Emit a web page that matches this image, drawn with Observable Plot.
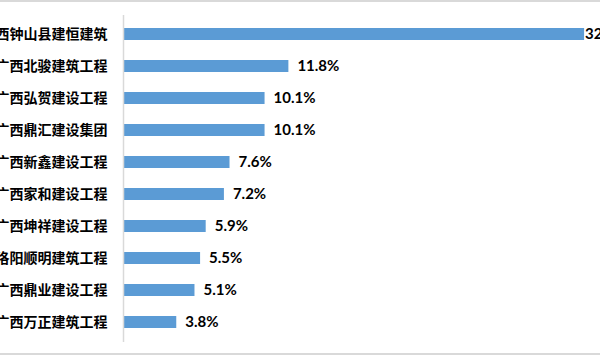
<!DOCTYPE html>
<html><head><meta charset="utf-8">
<script src="https://cdn.jsdelivr.net/npm/d3@7"></script>
<script src="https://cdn.jsdelivr.net/npm/@observablehq/plot@0.6"></script>
<style>
body{margin:0;background:#fff;}
#wrap{position:relative;width:600px;height:356px;overflow:hidden;}
#wrap .bt{position:absolute;left:0;top:0;width:600px;height:2px;background:#d9d9d9;}
#wrap .bb{position:absolute;left:0;top:353px;width:600px;height:2px;background:#d9d9d9;}
#wrap svg{position:absolute;left:0;top:0;overflow:hidden;}
</style>
</head><body>
<div id="wrap"><div class="bt"></div><div class="bb"></div></div>
<script>
const companies = ["广西钟山县建恒建筑","广西北骏建筑工程","广西弘贺建设工程","广西鼎汇建设集团","广西新鑫建设工程","广西家和建设工程","广西坤祥建设工程","洛阳顺明建筑工程","广西鼎业建设工程","广西万正建筑工程"];
const shares = [32.9, 11.8, 10.1, 10.1, 7.6, 7.2, 5.9, 5.5, 5.1, 3.8];
const data = companies.map((c, i) => ({company: c, share: shares[i]}));
const label = d => d.share.toFixed(1) + "%";

const chart = Plot.plot({
  width: 600,
  height: 356,
  marginTop: 15,
  marginBottom: 14,
  marginLeft: 123,
  marginRight: 0,
  style: {background: "transparent", overflow: "hidden"},
  x: {domain: [0, 33], range: [123, 585.5], axis: null},
  y: {domain: companies, range: [16, 341], paddingInner: 0.62, paddingOuter: 0.31, label: null},
  marks: [
    Plot.barX(data, {x: "share", y: "company", fill: "#5b9bd5"}),
    Plot.ruleX([0], {stroke: "#d9d9d9", strokeWidth: 1.5}),
    Plot.axisY({tickSize: 0, tickPadding: 16, fontSize: 14, fontFamily: "Noto Sans CJK SC", fontWeight: "bold", fill: "#000", label: null}),
    Plot.text(data.slice(0, 1), {x: "share", y: "company", text: label, textAnchor: "start", dx: 0.5, fontSize: 15, fontFamily: "Lato", fontWeight: "bold", fill: "#000"}),
    Plot.text(data.slice(1), {x: "share", y: "company", text: label, textAnchor: "start", dx: 8.5, fontSize: 15, fontFamily: "Lato", fontWeight: "bold", fill: "#000"})
  ]
});
chart.style.color = "#000";
document.getElementById("wrap").appendChild(chart);
</script>
</body></html>
